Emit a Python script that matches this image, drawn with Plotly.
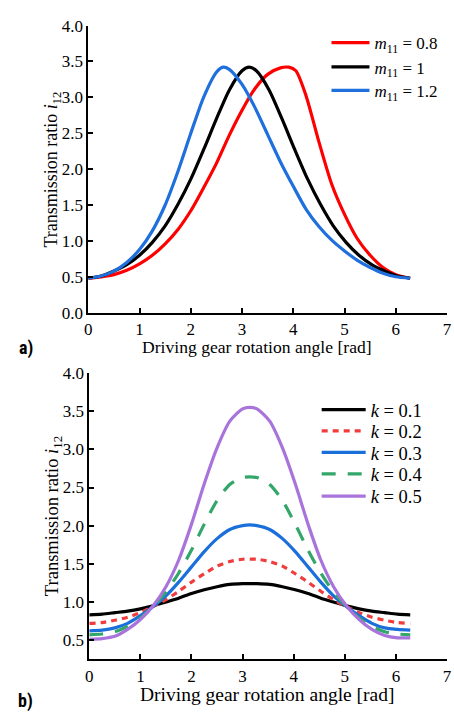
import plotly.graph_objects as go

# ---------- panel a) ----------
a_labels = ["<i>m</i><sub>11</sub> = 0.8", "<i>m</i><sub>11</sub> = 1", "<i>m</i><sub>11</sub> = 1.2"]

a_red_x = [0, 0.25, 0.5, 0.75, 1.0, 1.25, 1.5, 1.75, 2.0, 2.25, 2.5, 2.75, 3.0, 3.25, 3.5, 3.75, 3.91,
           4.05, 4.25, 4.5, 4.75, 5.0, 5.25, 5.5, 5.75, 6.0, 6.28]
a_red_y = [0.48, 0.50, 0.53, 0.59, 0.68, 0.80, 0.96, 1.16, 1.42, 1.74, 2.08, 2.47, 2.82, 3.12, 3.32, 3.41, 3.42,
           3.37, 3.02, 2.38, 1.79, 1.37, 1.03, 0.80, 0.63, 0.53, 0.48]

a_black_x = [0, 0.25, 0.5, 0.75, 1.0, 1.25, 1.5, 1.75, 2.0, 2.25, 2.5, 2.75, 3.0, 3.14,
             3.28, 3.53, 3.78, 4.03, 4.28, 4.53, 4.78, 5.03, 5.28, 5.53, 5.78, 6.03, 6.28]
a_black_y = [0.48, 0.51, 0.58, 0.67, 0.80, 0.98, 1.21, 1.51, 1.86, 2.27, 2.70, 3.10, 3.37, 3.42,
             3.37, 3.10, 2.70, 2.27, 1.86, 1.51, 1.21, 0.98, 0.80, 0.67, 0.58, 0.51, 0.48]

a_blue_x = [0, 0.25, 0.5, 0.75, 1.0, 1.25, 1.5, 1.75, 2.0, 2.25, 2.5, 2.63, 2.75, 3.0, 3.25, 3.5, 3.75,
            4.0, 4.25, 4.5, 4.75, 5.0, 5.25, 5.5, 5.75, 6.0, 6.28]
a_blue_y = [0.48, 0.51, 0.58, 0.70, 0.88, 1.14, 1.50, 1.97, 2.50, 3.00, 3.35, 3.42, 3.39, 3.18, 2.86, 2.48, 2.10,
            1.76, 1.44, 1.20, 1.01, 0.86, 0.73, 0.63, 0.55, 0.50, 0.48]

# ---------- panel b) ----------
b_labels = ["<i>k</i> = 0.1", "<i>k</i> = 0.2", "<i>k</i> = 0.3", "<i>k</i> = 0.4", "<i>k</i> = 0.5"]
b_x = [0, 0.25, 0.5, 0.75, 1.0, 1.25, 1.5, 1.75, 2.0, 2.25, 2.5, 2.75, 3.0, 3.14,
       3.28, 3.53, 3.78, 4.03, 4.28, 4.53, 4.78, 5.03, 5.28, 5.53, 5.78, 6.03, 6.28]
b_k1 = [0.83, 0.84, 0.86, 0.88, 0.91, 0.95, 1.00, 1.05, 1.11, 1.16, 1.20, 1.23, 1.24, 1.24,
        1.24, 1.23, 1.20, 1.16, 1.11, 1.05, 1.00, 0.95, 0.91, 0.88, 0.86, 0.84, 0.83]
b_k2 = [0.72, 0.73, 0.76, 0.80, 0.86, 0.94, 1.03, 1.14, 1.26, 1.37, 1.47, 1.53, 1.56, 1.56,
        1.56, 1.53, 1.47, 1.37, 1.26, 1.14, 1.03, 0.94, 0.86, 0.80, 0.76, 0.73, 0.72]
b_k3 = [0.62, 0.63, 0.66, 0.72, 0.82, 0.94, 1.08, 1.26, 1.46, 1.66, 1.83, 1.95, 2.00, 2.01,
        2.00, 1.95, 1.83, 1.66, 1.46, 1.26, 1.08, 0.94, 0.82, 0.72, 0.66, 0.64, 0.63]
b_k4 = [0.57, 0.58, 0.61, 0.68, 0.79, 0.94, 1.13, 1.38, 1.68, 2.02, 2.33, 2.54, 2.63, 2.64,
        2.63, 2.54, 2.33, 2.02, 1.68, 1.38, 1.13, 0.94, 0.79, 0.68, 0.61, 0.58, 0.57]
b_k5 = [0.51, 0.52, 0.55, 0.64, 0.77, 0.95, 1.20, 1.55, 2.02, 2.55, 3.02, 3.37, 3.53, 3.55,
        3.53, 3.37, 3.02, 2.55, 2.02, 1.55, 1.20, 0.95, 0.77, 0.64, 0.56, 0.53, 0.53]

x_ticks = [0, 1, 2, 3, 4, 5, 6, 7]

W, H = 454, 713
SERIF = "Liberation Serif, Times New Roman, serif"

def px_x(p):
    return p / W

def px_y(p):
    return 1 - p / H

fig = go.Figure()

# legend placement (pixel rows of each legend entry)
a_leg_rows = [35, 60, 84]
b_leg_rows = [412, 434, 456, 478, 501]

legends = {}
a_series = [(a_red_x, a_red_y, "#ff0000"), (a_black_x, a_black_y, "#000000"), (a_blue_x, a_blue_y, "#1f6fdc")]
for i, ((xs, ys, col), name) in enumerate(zip(a_series, a_labels)):
    lg = "legend" if i == 0 else "legend%d" % (i + 1)
    legends[lg] = dict(x=px_x(329), y=px_y(a_leg_rows[i]), xanchor="left", yanchor="middle",
                       bgcolor="rgba(0,0,0,0)", itemwidth=38,
                       font=dict(family=SERIF, size=17, color="black"))
    fig.add_trace(go.Scatter(x=xs, y=ys, mode="lines", name=name,
                             line=dict(color=col, width=3.2, shape="spline", smoothing=0.7),
                             xaxis="x", yaxis="y", legend=lg))

b_series = [(b_k1, "#000000", "solid"), (b_k2, "#f03c3c", "6px,5px"), (b_k3, "#1a6fdb", "solid"),
            (b_k4, "#33a66a", "14px,12px"), (b_k5, "#a874dc", "solid")]
for i, ((ys, col, dash), name) in enumerate(zip(b_series, b_labels)):
    lg = "legend%d" % (i + 4)
    legends[lg] = dict(x=px_x(319), y=px_y(b_leg_rows[i]), xanchor="left", yanchor="middle",
                       bgcolor="rgba(0,0,0,0)", itemwidth=44,
                       font=dict(family=SERIF, size=18.5, color="black"))
    fig.add_trace(go.Scatter(x=b_x, y=ys, mode="lines", name=name,
                             line=dict(color=col, width=3.2, dash=dash, shape="spline", smoothing=0.7),
                             xaxis="x2", yaxis="y2", legend=lg))

axis_common = dict(showline=True, linecolor="black", linewidth=2, ticks="inside", ticklen=5,
                   tickwidth=2, tickcolor="black", showgrid=False, zeroline=False,
                   ticklabeloverflow="allow")
font_t = dict(family=SERIF, size=17, color="black")

fig.update_layout(
    width=W, height=H, autosize=False,
    margin=dict(l=0, r=0, t=0, b=0),
    paper_bgcolor="white", plot_bgcolor="white",
    xaxis=dict(domain=[px_x(86), px_x(452)], range=[0, 7], tickvals=x_ticks, anchor="y",
               tickfont=font_t, **axis_common),
    yaxis=dict(domain=[px_y(312), px_y(17)], range=[0, 4], tick0=0, dtick=0.5, tickformat=".1f",
               anchor="x", tickfont=font_t, **axis_common),
    xaxis2=dict(domain=[px_x(87), px_x(452)], range=[0, 7], tickvals=x_ticks, anchor="y2",
                tickfont=font_t, **axis_common),
    yaxis2=dict(domain=[px_y(668), px_y(374)], range=[0.25, 4], tick0=0.5, dtick=0.5, tickformat=".1f",
                anchor="x2", tickfont=font_t, **axis_common),
    showlegend=True,
    **legends,
)

annots = [
    dict(text="Driving gear rotation angle [rad]", x=px_x(258), y=px_y(347), font=dict(size=17.6)),
    dict(text="Driving gear rotation angle [rad]", x=px_x(268), y=px_y(704), font=dict(size=19.5)),
    dict(text="Transmission ratio <i>i</i><sub>12</sub>", x=px_x(50), y=px_y(165), textangle=-90, font=dict(size=18)),
    dict(text="Transmission ratio <i>i</i><sub>12</sub>", x=px_x(50), y=px_y(521), textangle=-90, font=dict(size=18.5)),
]
for a in annots:
    f = dict(family=SERIF, color="black")
    f.update(a.pop("font"))
    fig.add_annotation(xref="paper", yref="paper", showarrow=False, xanchor="center", yanchor="middle",
                       font=f, **a)

BOLD = "Liberation Sans Narrow, Arial Narrow, Roboto Condensed, Roboto, sans-serif"
for lab, yy in [("a)", 348), ("b)", 711)]:
    fig.add_annotation(xref="paper", yref="paper", showarrow=False, x=px_x(22), y=px_y(yy),
                       xanchor="center", yanchor="middle", text="<b>" + lab + "</b>",
                       font=dict(family=BOLD, size=18, color="black"))

fig.write_html("out.html", config={"displayModeBar": False},
               post_script="document.body.style.margin='0';document.body.style.padding='0';"
                           "document.body.style.overflow='hidden';"
                           "document.documentElement.style.overflow='hidden';")
